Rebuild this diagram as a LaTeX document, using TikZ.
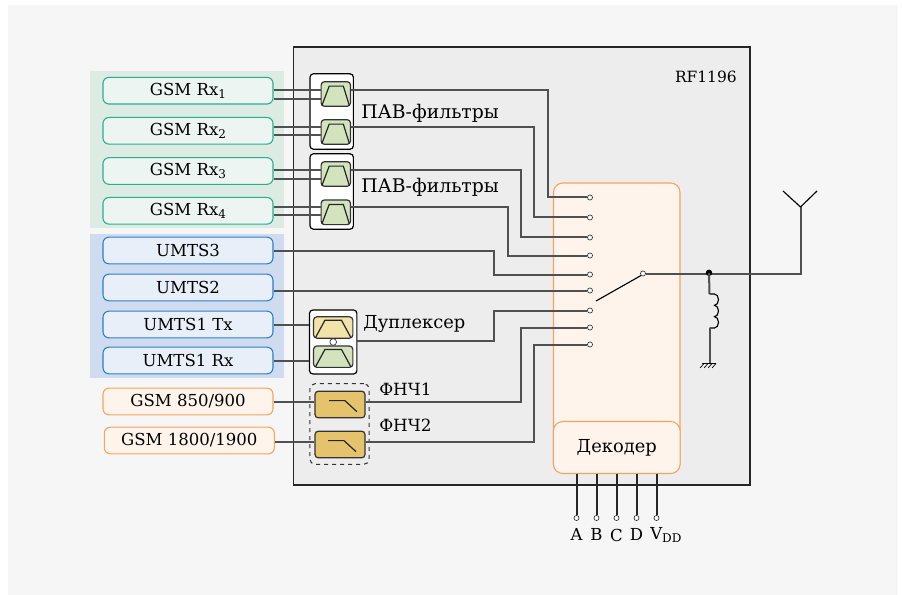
\documentclass[tikz,border=0pt]{standalone}
\usepackage{fontspec}
\setmainfont{DejaVu Serif}
\usepackage{tikz}
\usetikzlibrary{
    arrows.meta,
    positioning,
    calc
}
\definecolor{pagegrey}{HTML}{F6F6F6}
\definecolor{chipgrey}{HTML}{EDEDED}
\definecolor{wiregrey}{HTML}{505050}
\definecolor{bandgreen}{HTML}{DCEBE4}
\definecolor{bandblue}{HTML}{CFDCF0}
\definecolor{linegreen}{HTML}{2BAE8B}
\definecolor{fillgreen}{HTML}{EDF5F2}
\definecolor{lineblue}{HTML}{2C7FC4}
\definecolor{fillblue}{HTML}{E9EFF9}
\definecolor{lineorange}{HTML}{F4A460}
\definecolor{fillorange}{HTML}{FEF4EC}
\definecolor{sawgreen}{HTML}{D2E3BE}
\definecolor{sawyellow}{HTML}{F2E3AB}
\definecolor{lpforange}{HTML}{E5C36D}
\newcommand{\lowidx}[1]{\raisebox{-2.6pt}{\fontsize{9}{9}\selectfont #1}}

\begin{document}
\begin{tikzpicture}[
    x=0.75pt, y=-0.75pt,
    every node/.style={font=\fontsize{12.4}{14}\selectfont, text=black},
    port/.style={rectangle, draw, rounded corners=4.5pt, line width=0.8pt,
      minimum width=127.5pt, minimum height=20pt, inner sep=0pt},
    gsmport/.style={port, draw=linegreen, fill=fillgreen},
    umtsport/.style={port, draw=lineblue, fill=fillblue},
    lowport/.style={port, draw=lineorange, fill=fillorange},
    group/.style={rectangle, draw=black, fill=white, rounded corners=2.5pt,
      line width=0.9pt, inner sep=0pt},
    sawf/.style={rectangle, draw=black!80, fill=sawgreen, rounded corners=2.5pt,
      line width=0.9pt, minimum width=22pt, minimum height=18.5pt, inner sep=0pt},
    dupf/.style={sawf, minimum width=29.5pt, minimum height=16pt},
    lpf/.style={sawf, fill=lpforange, minimum width=37.5pt, minimum height=20pt},
    wire/.style={draw=wiregrey, line width=1.5pt},
    thin wire/.style={draw=black, line width=0.85pt},
    term/.style={circle, draw=black!80, fill=white, line width=0.5pt,
      minimum size=3.8pt, inner sep=0pt},
    icon/.style={draw=black!85, line width=0.9pt},
    note/.style={anchor=west, inner sep=0pt, font=\fontsize{13.4}{15}\selectfont}
]
% background
\fill[white] (0,0) rectangle (902,595);
\fill[pagegrey] (8,5) rectangle (898,595);
\fill[bandgreen] (90,71) rectangle (284,228);
\fill[bandblue] (90,234) rectangle (284,378);
\node[draw=black!85, fill=chipgrey, line width=1pt, minimum width=342.5pt,
  minimum height=328.5pt, inner sep=0pt] (chip) at (521.5,266) {};
\node[anchor=east, inner sep=0pt, font=\fontsize{11.6}{13}\selectfont] (partname) at (737,77) {RF1196};

% switch panel
\draw[lineorange, fill=fillorange, line width=0.8pt, rounded corners=7pt]
  (553.5,183) rectangle (680,473);
\node[draw=lineorange, fill=fillorange, line width=0.8pt, rounded corners=7pt,
  minimum width=95pt, minimum height=39pt, inner sep=0pt,
  font=\fontsize{13.4}{15}\selectfont] (dec) at (616.75,447.5) {Декодер};

% ports
\node[gsmport] (rx1) at (188,90.7) {GSM Rx\lowidx{1}};
\node[gsmport] (rx2) at (188,130.8) {GSM Rx\lowidx{2}};
\node[gsmport] (rx3) at (188,171) {GSM Rx\lowidx{3}};
\node[gsmport] (rx4) at (188,210.8) {GSM Rx\lowidx{4}};
\node[umtsport] (umts3) at (188,250.5) {UMTS3};
\node[umtsport] (umts2) at (188,287.5) {UMTS2};
\node[umtsport] (tx1) at (188,324.5) {UMTS1 Tx};
\node[umtsport] (rx5) at (188,360.5) {UMTS1 Rx};
\node[lowport] (low1) at (188,401.5) {GSM 850/900};
\node[lowport] (low2) at (189.3,440.5) {GSM 1800/1900};

% filter groups
\node[group, minimum width=32.5pt, minimum height=56.5pt] (saw1) at (331.7,111.5) {};
\node[group, minimum width=32.5pt, minimum height=56.5pt] (saw2) at (331.7,191.5) {};
\node[group, minimum width=35.5pt, minimum height=48pt] (dup) at (333.2,342) {};
\node[draw=black!80, dashed, rounded corners=4pt, line width=0.8pt, minimum width=44.5pt,
  minimum height=60.5pt, inner sep=0pt] (lpfbox) at (339.5,424) {};

\node[sawf] (f1) at (335.8,94) {};
\node[sawf] (f2) at (335.8,132) {};
\node[sawf] (f3) at (335.8,174) {};
\node[sawf] (f4) at (335.8,212.3) {};
\node[dupf, fill=sawyellow] (d1) at (333.2,327.5) {};
\node[dupf] (d2) at (333.2,356.7) {};
\node[term, minimum size=5pt] (dupc) at (333.2,342) {};
\node[lpf] (l1) at (340,404.5) {};
\node[lpf] (l2) at (340,444.5) {};

% filter icons
\foreach \f in {f1,f2,f3,f4}
  \draw[icon] ($(\f.south west)+(1pt,1pt)$) -- ($(\f.north west)+(6.5pt,-3.8pt)$)
    -- ($(\f.north east)+(-5.8pt,-3.8pt)$) -- ($(\f.south east)+(-1.3pt,1pt)$);
\foreach \f in {d1,d2}
  \draw[icon] ($(\f.south west)+(2pt,1pt)$) -- ($(\f.north west)+(9pt,-3pt)$)
    -- ($(\f.north east)+(-9pt,-3pt)$) -- ($(\f.south east)+(-2pt,1pt)$);
\draw[icon] ($(l1.center)+(-8.2pt,2.9pt)$) -- ($(l1.center)+(3.7pt,2.9pt)$) -- ($(l1.center)+(12.7pt,-5.4pt)$);
\draw[icon] ($(l2.center)+(-9pt,2.9pt)$) -- ($(l2.center)+(3pt,2.9pt)$) -- ($(l2.center)+(12pt,-5.4pt)$);

% labels
\node[note, font=\fontsize{14.1}{16}\selectfont] (saw1text) at (361,113) {ПАВ-фильтры};
\node[note, font=\fontsize{14.1}{16}\selectfont] (saw2text) at (361,187) {ПАВ-фильтры};
\node[note] (duptext) at (363,324) {Дуплексер};
\node[note, font=\fontsize{12.6}{14}\selectfont] (lpf1text) at (379,389) {ФНЧ1};
\node[note, font=\fontsize{12.6}{14}\selectfont] (lpf2text) at (379,425) {ФНЧ2};

% terminals
\node[term] (t1) at (590,197.5) {};
\node[term] (t2) at (590,217.5) {};
\node[term] (t3) at (590,237.5) {};
\node[term] (t4) at (590,255.5) {};
\node[term] (t5) at (590,274.5) {};
\node[term] (t6) at (590,290.5) {};
\node[term] (t7) at (590,310.5) {};
\node[term] (t8) at (590,327.5) {};
\node[term] (t9) at (590,344.5) {};
\node[term] (pole) at (643,273.5) {};
\coordinate (throw) at (596,301);

% input wires
\draw[wire] (rx1.east |- 0,90.5) -- (f1.west |- 0,90.5);
\draw[wire] (rx1.east |- 0,99.5) -- (f1.west |- 0,99.5);
\draw[wire] (rx2.east |- 0,127.5) -- (f2.west |- 0,127.5);
\draw[wire] (rx2.east |- 0,135.5) -- (f2.west |- 0,135.5);
\draw[wire] (rx3.east |- 0,170.5) -- (f3.west |- 0,170.5);
\draw[wire] (rx3.east |- 0,179.5) -- (f3.west |- 0,179.5);
\draw[wire] (rx4.east |- 0,207.5) -- (f4.west |- 0,207.5);
\draw[wire] (rx4.east |- 0,215.5) -- (f4.west |- 0,215.5);
\draw[wire] (tx1.east) -- (dup.west |- tx1);
\draw[wire] (rx5.east) -- (dup.west |- rx5);
\draw[wire] (low1.east |- 0,401.5) -- (l1.west |- 0,401.5);
\draw[wire] (low2.east |- 0,441.5) -- (l2.west |- 0,441.5);

% wires to the switch
\draw[wire] (f1.east |- 0,90.5) -- (547.5,90.5) |- (t1.west);
\draw[wire] (f2.east |- 0,127.5) -- (533.5,127.5) |- (t2.west);
\draw[wire] (f3.east |- 0,170.5) -- (520.5,170.5) |- (t3.west);
\draw[wire] (f4.east |- 0,207.5) -- (507.5,207.5) |- (t4.west);
\draw[wire] (umts3.east) -- (493.5,250.5) |- (t5.west);
\draw[wire] (umts2.east |- t6) -- (t6.west);
\draw[wire] (dup.east |- 0,340.5) -- (493.5,340.5) |- (t7.west);
\draw[wire] (l1.east |- 0,401.5) -- (520.5,401.5) |- (t8.west);
\draw[wire] (l2.east |- 0,441.5) -- (533.5,441.5) |- (t9.west);

% switch, coil and antenna
\draw[thin wire] (throw) -- (pole.south west);
\coordinate (node1) at (709,272.8);
\coordinate (coiltop) at (709.5,294);
\coordinate (coilbot) at (709.5,328);
\coordinate (gnd) at (709.5,364);
\coordinate (ant) at (800.5,207);
\draw[wire] (pole.east) -- (ant |- pole) -- (ant);
\draw[thin wire] (ant) -- (783,191);
\draw[thin wire] (ant) -- (817,191);
\fill[black] (node1) circle (2.4pt);
\draw[wire] (node1) -- (coiltop);
\draw[thin wire] (coiltop) -- ++(5,0)
  arc[start angle=90, end angle=-90, x radius=3pt, y radius=4.25pt]
  arc[start angle=90, end angle=-90, x radius=3pt, y radius=4.25pt]
  arc[start angle=90, end angle=-90, x radius=3pt, y radius=4.25pt] -- (coilbot);
\draw[wire] (coilbot) -- (gnd);
\draw[thin wire] (702,363.5) -- (716,363.5);
\foreach \i in {0,1,2,3}
  \draw[thin wire, line width=0.5pt] (704+\i*4,363.5) -- ++(-4,4.5);

% decoder pins
\foreach \x/\n/\t in {576.5/a/A,596.5/b/B,616.5/c/C,636.5/d/D} {
  \node[term] (pin\n) at (\x,518) {};
  \node[below=2.5pt of pin\n] (lab\n) {\t};
  \draw[wire, draw=black!85] (pin\n.north) -- (pin\n.north |- dec.south);
}
\node[term] (pinv) at (656.5,518) {};
\node[anchor=west, inner sep=0pt] (labv) at (650,535) {V\lowidx{DD}};
\draw[wire, draw=black!85] (pinv.north) -- (pinv.north |- dec.south);
\end{tikzpicture}
\end{document}
